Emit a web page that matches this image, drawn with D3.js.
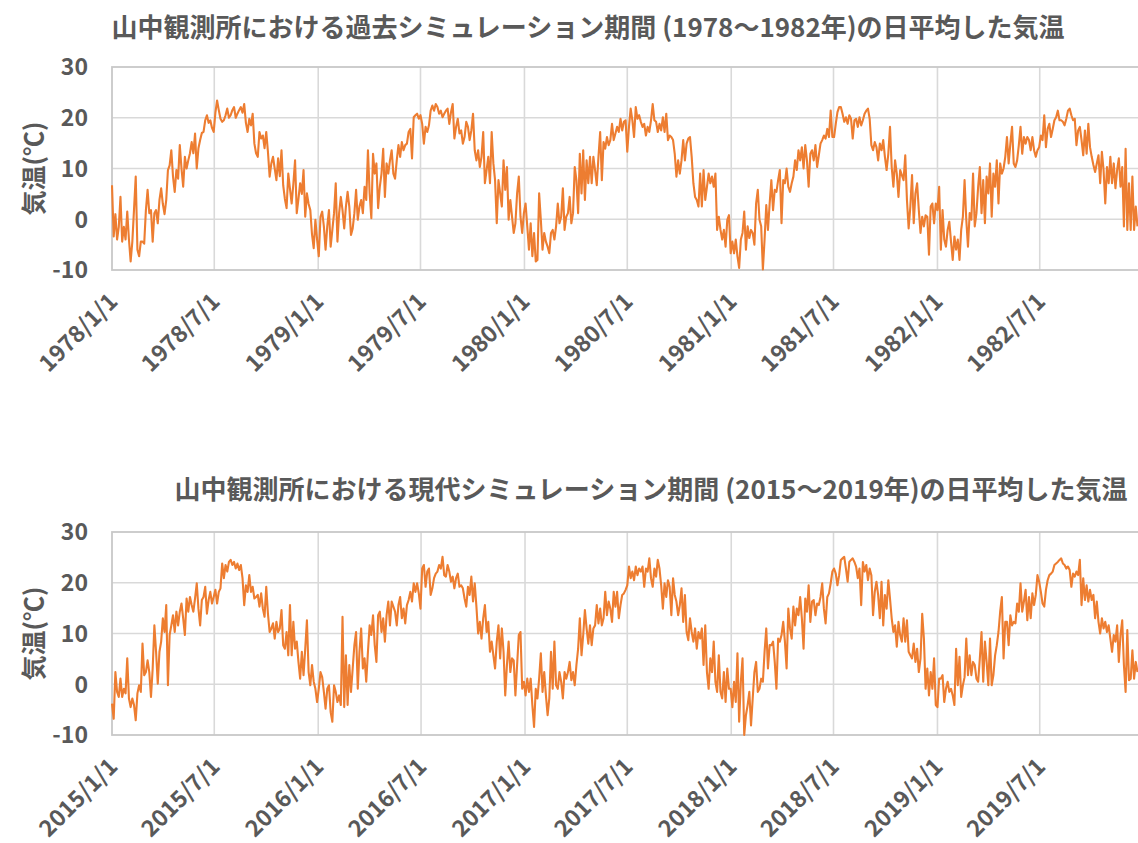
<!DOCTYPE html>
<html>
<head>
<meta charset="utf-8">
<script src="https://cdn.jsdelivr.net/npm/d3@7"></script>
<style>
  html, body { margin: 0; padding: 0; background: #ffffff; }
  svg { display: block; }
  text { font-family: "Noto Sans CJK JP", "Noto Sans", sans-serif; font-weight: 700; fill: #595959; }
</style>
</head>
<body>
<svg id="chart" width="1138" height="843"></svg>
<script>
// Daily mean air temperature at the Yamanaka station, sampled every 3 days (°C).
const stepDays = 3;

const pastStart = "1978-01-01";
const pastTitle = "山中観測所における過去シミュレーション期間 (1978～1982年)の日平均した気温";
const past1 = [6.7,-3.4,1,-4,-1.5,4.4,-4.4,-1.5,-4,1.5,
  -4,-8.3,-4.4,2,8.4,-6,-7.3,-4.4,-4.4,-4.8,
  1.8,5.8,1.2,1.8,-4.4,1.2,1.8,-0.8,3.8,6.1,
  3,1,3.8,9.7,10.6,13.6,8.4,5.4,9.7,8,
  14.6,10,6.4,12.3,10,11.6,13,15.2,13,16.9,
  10,14,15.6,17,17.2,19.5,20.5,19,19.5,18,
  17.2,21,23.4,21.5,19.8,19.2,19.5,20.5,21.8,20,
  20.5,21.5,22.1,20,20.8,21.5,22.1,21,22.7,19,
  17.2,19.8,18.5,20.8,14.9,13,12.3,17.2,15.9,16.5,
  14,17.2,13.3,8.4,11,12.3,10,7.7,12,8.5,
  13.6,6.7,4,2.2,9,6,3.1,7,11.6,1.2,
  4,7.1,5,9.7,0.5,5.1,3,1.8,-3,-5.7,
  -0.1,-4];
const past2 = [-7.3,0.5,1.5,-1.4,-6,-1.4,1.8,-5.4,-2.1,1.2,
  7.1,-4.4,1.2,4.4,1.8,-1.8,2.5,5.4,2.5,-3.1,
  -1.8,1.2,5.8,-0.1,2.5,3.8,1.2,6.4,3.8,13.6,
  5.1,0.2,12.9,9,11,2.2,6.4,9,13.9,4.4,
  11,9,11.6,13.6,9,8,11.6,14.6,12.3,15.2,
  13.6,14.6,14.9,17.2,17.8,12,20.1,20.5,20.8,19.8,
  20.5,18.8,14.9,18.2,17.2,18.5,21.4,22.4,21.4,22.7,
  22.1,20.8,21.4,20.1,20.8,21.4,21.8,18.8,21.1,22.7,
  15.9,18.2,19.8,16.9,17.5,14.9,16.2,19.2,18.2,15.6,
  17.5,20.8,13.6,11.6,13.6,10.3,12.3,17.2,7.1,9.7,
  12.3,7.1,17.2,11,7.7,-0.8,7.7,5.1,2.5,11.6,
  5.8,10.3,-0.1,3.8,0.5,-2.7,-0.8,5.1,8.4,0.5,
  -2.7,1.2];
const past3 = [3.1,-1.4,-6,-0.8,-7.3,-2.7,-8.3,-8,5.1,-0.1,
  -6,-2.7,-4.4,-5.4,-6.7,-2.7,-2.1,-4,-1.4,3.1,
  -0.8,0.5,6.1,-2.1,0.5,1.2,4.4,-0.8,1.2,10.3,
  7.7,1.2,12.9,5.1,13.6,3.8,11.6,7.1,12.3,7.1,
  12.3,9.7,6.7,12.3,17.2,7.7,15.2,13.9,16.2,14.6,
  15.6,18.8,15.6,16.9,18.2,17.2,19.8,17.5,19.2,19.5,
  13.3,18.2,21.8,19.5,16.2,22.1,19.8,20.5,19.2,18.2,
  18.8,16.5,18.2,17.2,19.5,22.7,19.5,19.2,17.2,18.8,
  17.5,20.1,17.2,20.8,15.6,16.5,16.2,15.6,12.9,8.4,
  11.6,9,11.6,15.6,11.6,14.9,15.9,16.2,12.3,7.1,
  4.4,3.8,2.5,9,2.5,9.7,3.8,6.4,9,7.1,
  8.4,6.4,9,-2.1,0.5,-2.1,-4,-2.1,-5.4,-0.1,
  0.8];
const past4 = [-6.7,-4.4,-6.7,-4,-7.3,-9.6,-4,-2.7,1.5,-6,
  -1.4,-3.7,-2.1,-2.7,-5,3.1,5.8,-0.1,-1.4,-9.9,
  -4,2.8,-2.1,3.1,7.7,1.8,5.8,5.4,7.7,9.7,
  -0.8,7.7,7.1,10,6.4,5.4,7.1,8.4,11.6,9.7,
  13.6,11.6,14.2,10,14.6,11.6,6.4,12.9,13.6,11.6,
  14.6,10.3,12.6,14.9,15.6,16.5,15.9,17.8,16.2,21.4,
  16.2,16.2,18.8,21.1,22.1,22.1,20.8,19.2,20.1,18.8,
  20.5,19.8,15.9,19.5,19.8,18.2,20.1,18.5,19.5,20.8,
  21.4,21.8,19.8,14.6,13.6,15.2,14.2,11.6,14.9,13.6,
  15.6,12.3,9.7,12.9,18.2,10.3,6.4,11.6,9,4.4,
  9.7,8.7,7.7,12.6,3.8,-1.8,2.5,8.7,-0.8,5.1,
  7.1,1.8,-2.7,0.5,-1.4,0.8,0.5,-7,2.5,3.1,
  -0.8,3.1];
const past5 = [1.8,6.4,-6,1.8,-4,-5.4,-2.1,-0.5,-4.4,-8,
  -3.4,-6,-4,-8,-2.1,0.5,7.7,-0.1,-5.4,1.2,
  -0.1,9,-1.4,1.2,6.4,10.3,1.2,7.7,-0.8,8.4,
  5.1,11,0.5,9,6.4,11.6,3.1,11,9,10,
  12.3,16.2,11,14.9,18.2,11,10.3,11.6,14.6,18.2,
  12.9,16.2,14.9,16.2,15.6,13.6,16.2,13.6,12.3,13.6,
  14.2,16.5,15.6,20.5,14.2,17.8,18.8,16.2,17.8,19.5,
  20.1,21.4,19.5,19.5,19.2,18.5,19.8,21.4,21.8,20.5,
  19.5,19.8,14.6,17.5,18.2,15.6,12.6,17.5,12.9,18.8,
  14.2,12.3,10.7,9.3,11,12.6,7.1,13.3,9.7,3.1,
  10.3,7.1,12.3,7.1,11,6.1,9.7,12,6.4,10.3,
  -1.4,13.9,-2.1,7.1,-2.1,8.4,-2.1,2.5,-1.4];

const presentStart = "2015-01-01";
const presentTitle = "山中観測所における現代シミュレーション期間 (2015～2019年)の日平均した気温";
const present1 = [-3.8,-6.8,2.4,-1.5,-2.5,1.1,-2.5,-0.9,-1.8,5.1,
  -2.8,-4.5,-2.8,-4.1,-7.1,-1.8,-0.2,-1.5,8,1.8,
  2.4,4.7,2.4,-2.5,3.1,11.6,6.4,0.1,6.4,8.4,
  13,10.3,15.6,-0.2,9.7,11.6,13.6,10.3,14.3,11.6,
  14.3,15.9,13,9.7,16.9,14.3,17.2,15.6,14.3,16.9,
  19.9,14.9,11.6,16.6,17.2,19.2,13.9,16.6,18.2,15.9,
  17.2,18.6,15.9,18.2,18.9,23.8,20.9,23.5,22.2,24.1,
  24.5,23.5,24.1,22.8,23.8,22.5,23.5,20.9,15.6,19.5,
  18.2,21.5,18.2,19.2,16.9,17.2,17.6,15.3,17.9,14.9,
  13.3,19.2,13.9,10.3,11,12,9,12.3,10.3,11,
  14.6,7.7,7,10.3,5.7,15.6,5.7,12.3,7,8.4,
  4.4,1.1,6.4,1.8,7,12.6,2.4,-0.2,3.8,0.5,
  -0.9,-3.5];
const present2 = [-0.9,2.4,1.4,-1.5,-4.8,-0.9,-0.2,-5.5,-7.4,-0.2,
  -1.5,-3.5,-2.2,-4.1,13.3,-4.5,5.7,-4.1,3.8,-1.5,
  3.1,7.7,10.3,-0.9,6.4,11,3.1,5.1,0.5,6.4,
  11.6,9.7,13.6,7.7,4.4,13.6,14.3,10.3,13,8.4,
  13.6,16.3,11.6,16.3,15.3,14.3,11.6,15.6,17.2,13,
  14.9,12,15.6,16.6,18.2,16.3,19.9,18.2,19.9,17.9,
  14.9,22.8,23.5,19.2,22.2,22.8,17.6,18.9,20.9,21.8,
  22.2,23.5,22.8,25.1,21.5,21.2,23.5,22.2,20.2,21.2,
  18.9,20.9,21.8,19.2,19.5,18.9,16.9,15.3,19.2,17.6,
  21.2,16.3,19.9,15.3,10,12.3,9,13,15.6,10.3,
  12.3,6.4,8.4,5.7,3.1,8.4,11.6,5.1,11,6.4,
  -2.2,3.8,8.4,2.4,5.1,4.7,-2.2,3.8,9.7,10.3,
  -0.9,0.5];
const present3 = [-2.2,1.1,-1.5,1.1,-4.1,-8.4,-0.9,-2.8,1.1,6.1,
  -1.5,2.4,-2.2,-6.1,-2.8,6.4,-0.9,8.4,-0.2,-0.9,
  2.4,0.5,-2.8,2.4,1.1,2.4,4.4,0.8,2.4,-0.2,
  3.8,7,13,5.7,9.7,14.6,11,8,11.6,7.7,
  11,11.6,15.6,12,14.9,11.6,13,18.2,13.6,16.3,
  14.9,12.3,18.2,15.3,18.2,13,15.6,17.6,17.9,18.6,
  19.5,23.2,20.9,22.2,20.5,23.2,21.5,22.8,22.2,23.2,
  19.2,22.8,22.2,24.8,20.9,19.2,22.8,21.2,24.5,22.8,
  19.5,14.9,19.9,17.2,20.5,19.2,13.6,20.9,17.6,16.3,
  13.6,15.6,18.9,12.3,17.6,10.3,8.7,13,10.3,8.4,
  11,7,10.3,9,11,3.8,11.6,2.4,-0.9,5.1,
  2.4,8.4,0.5,-1.5,5.7,-1.5,-2.8,2.4,-3.5,3.1,
  -0.9];
const present4 = [-0.9,-4.5,0.5,-3.5,6.1,-7.4,0.5,5.1,-10,-6.1,
  -4.1,-1.5,-8.1,-2.8,2.4,4.4,-1.5,-0.9,1.1,0.5,
  6.4,11,3.1,7.7,7.7,8.4,4.4,-0.9,9,8.4,
  9.7,12.3,8.4,3.1,14.9,11,9,15.3,11.6,14.9,
  13.6,17.2,13,7,16.9,14.3,19.5,12.3,16.3,16.6,
  13.6,15.9,15.6,17.2,19.9,14.9,12,17.2,17.9,19.9,
  22.2,22.8,21.8,19.5,21.5,24.5,24.8,25.1,22.8,20.2,
  24.1,24.5,24.8,24.1,23.2,20.9,22.8,15.6,24.1,22.2,
  23.5,20.5,22.8,21.5,13.6,18.2,20.2,17.6,13,20.2,
  11.6,17.6,14.9,20.5,16.9,13,10.3,11.6,7.4,12.3,
  9.7,8.4,13,8.4,12.6,6.4,5.7,5.1,8,4.4,
  7,2.4,5.1,13.9,9,-0.9,3.1,-2.2,2.4,-0.9,
  5.1,-4.1];
const present5 = [-4.5,1.1,1.1,1.8,-3.5,-0.9,0.5,-1.5,-0.9,-2.2,
  -4.1,7,-0.2,5.4,-2.5,-0.2,1.4,9,1.8,5.7,
  1.8,4.4,3.8,1.1,0.5,5.1,10.3,0.5,8.4,4.4,
  -0.2,9,-0.2,1.8,5.7,7.7,10.3,14.3,17.2,5.1,
  12.3,12.3,7.7,13.6,11.6,12.3,12,15.9,14.3,19.9,
  14.3,16.3,18.6,12.6,17.2,13,17.9,15.6,17.6,21.5,
  20.2,18.2,15.9,15.3,18.6,20.5,21.5,21.8,22.2,23.5,
  23.8,24.1,24.5,24.8,23.8,23.5,22.8,23.2,22.5,19.2,
  21.8,21.2,22.2,21.5,24.5,15.6,20.9,16.6,19.5,16.3,
  18.6,16.6,17.6,13,16.3,12.3,10,13,11,12.3,
  10.3,11.6,9,6.4,9.7,8.4,11.6,4.4,9.7,12.6,
  3.8,-1.5,10.7,0.8,1.1,6.7,1.1,4.4,2.4];

const yTicks = [-10, 0, 10, 20, 30];
const yTitle = "気温(℃)";
const lineColor = "#ED7D31";

const svg = d3.select("#chart");
const DAY = 86400000;
const fmt = d3.utcFormat("%Y/%-m/%-d");

function drawPanel(opts) {
  const { startStr, values, title, top, titleX, titleY } = opts;
  const t0 = new Date(startStr + "T00:00:00Z");
  const t1 = d3.utcYear.offset(t0, 5);
  const left = 112;
  const width = 0.565 * ((t1 - t0) / DAY);
  const height = 203;

  const x = d3.scaleUtc().domain([t0, t1]).range([left, left + width]);
  const y = d3.scaleLinear().domain([-10, 30]).range([top + height, top]);

  const g = svg.append("g");

  // horizontal gridlines
  g.append("g").selectAll("line").data(yTicks.filter(v => v > -10 && v < 30)).join("line")
    .attr("x1", left).attr("x2", left + width)
    .attr("y1", d => y(d)).attr("y2", d => y(d))
    .attr("stroke", "#D9D9D9").attr("stroke-width", 1.6);

  // vertical gridlines every six months
  const ticks = d3.utcMonth.every(6).range(t0, t1);
  g.append("g").selectAll("line").data(ticks.slice(1)).join("line")
    .attr("x1", d => x(d)).attr("x2", d => x(d))
    .attr("y1", top).attr("y2", top + height)
    .attr("stroke", "#D9D9D9").attr("stroke-width", 1.6);

  // plot frame
  g.append("rect")
    .attr("x", left).attr("y", top).attr("width", width).attr("height", height)
    .attr("fill", "none").attr("stroke", "#C8C8C8").attr("stroke-width", 1.8);

  // temperature line
  const pts = values.map((v, i) => ({ date: new Date(+t0 + i * stepDays * DAY), v }));
  const line = d3.line().x(d => x(d.date)).y(d => y(d.v));
  g.append("path").datum(pts)
    .attr("d", line)
    .attr("fill", "none").attr("stroke", lineColor)
    .attr("stroke-width", 2.1).attr("stroke-linejoin", "round");

  // y tick labels
  g.append("g").selectAll("text").data(yTicks).join("text")
    .attr("x", 88).attr("y", d => y(d)).attr("dy", "0.36em")
    .attr("text-anchor", "end").attr("font-size", 23)
    .text(d => d);

  // y title
  g.append("text")
    .attr("transform", `translate(43,${y(10)}) rotate(-90)`)
    .attr("text-anchor", "middle").attr("font-size", 25)
    .text(yTitle);

  // x tick labels, rotated
  g.append("g").selectAll("text").data(ticks).join("text")
    .attr("transform", d => `translate(${x(d) + 7},${top + height + 33}) rotate(-45)`)
    .attr("text-anchor", "end").attr("font-size", 23)
    .text(d => fmt(d));

  // title
  g.append("text")
    .attr("x", titleX).attr("y", titleY)
    .attr("text-anchor", "middle").attr("font-size", 26)
    .text(title);
}

drawPanel({
  startStr: pastStart,
  values: [].concat(past1, past2, past3, past4, past5),
  title: pastTitle, top: 67, titleX: 588, titleY: 37
});
drawPanel({
  startStr: presentStart,
  values: [].concat(present1, present2, present3, present4, present5),
  title: presentTitle, top: 532, titleX: 651, titleY: 499
});
</script>
</body>
</html>
